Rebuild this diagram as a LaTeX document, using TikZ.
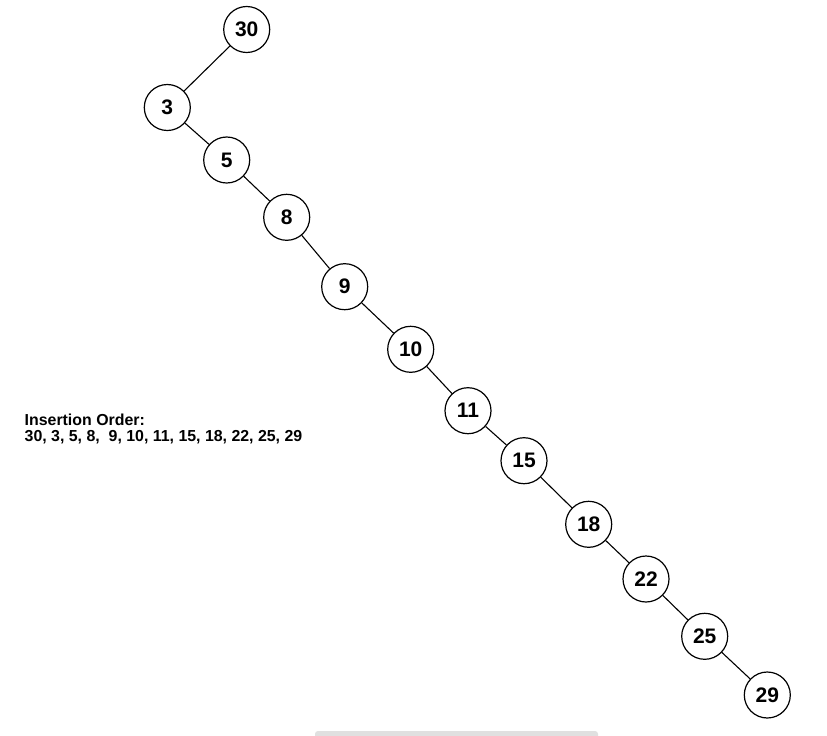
\documentclass[tikz,border=0pt]{standalone}
\usepackage{fontspec}
\setmainfont{Liberation Sans}
\begin{document}
\begin{tikzpicture}[x=1pt,y=-1pt,
  tnode/.style={circle,draw=black,line width=1.2pt,fill=white,minimum size=46pt,inner sep=0pt,font=\fontsize{21}{24}\selectfont\bfseries},
  tedge/.style={draw=black,line width=1.1pt}]
\useasboundingbox (0,0) rectangle (827,736);
\fill[white] (0,0) rectangle (827,736);
\node[tnode] (n30) at (246.7,29.5) {30};
\node[tnode] (n3) at (167.3,107.5) {3};
\node[tnode] (n5) at (226.7,160) {5};
\node[tnode] (n8) at (286.7,217.3) {8};
\node[tnode] (n9) at (344.7,286.7) {9};
\node[tnode] (n10) at (410.7,349.3) {10};
\node[tnode] (n11) at (468,410.7) {11};
\node[tnode] (n15) at (524,460.7) {15};
\node[tnode] (n18) at (588.7,524.3) {18};
\node[tnode] (n22) at (646,579) {22};
\node[tnode] (n25) at (704.7,636.3) {25};
\node[tnode] (n29) at (767.3,695) {29};
\foreach \a/\b in {n30/n3,n3/n5,n5/n8,n8/n9,n9/n10,n10/n11,n11/n15,n15/n18,n18/n22,n22/n25,n25/n29}
  \path[tedge] (\a) -- (\b);
\node[anchor=north west,align=left,inner sep=0pt,font=\fontsize{15.9}{16.5}\selectfont\bfseries] (label) at (24.5,413.5) {Insertion Order:\\30, 3, 5, 8, \ 9, 10, 11, 15, 18, 22, 25, 29};
\fill[black!12,rounded corners=3pt] (315,731) rectangle (598,742);
\end{tikzpicture}
\end{document}
